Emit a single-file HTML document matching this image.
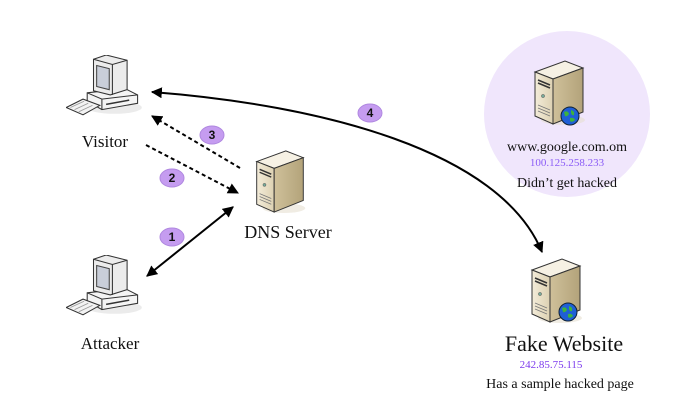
<!DOCTYPE html>
<html><head><meta charset="utf-8"><style>
html,body{margin:0;padding:0;background:#fff;width:677px;height:400px;overflow:hidden}
svg{display:block}
text{font-family:"Liberation Serif",serif;fill:#111}
</style></head><body>
<svg width="677" height="400" viewBox="0 0 677 400" xmlns="http://www.w3.org/2000/svg">
<defs>
<linearGradient id="front" x1="0" x2="1"><stop offset="0" stop-color="#f3ecd9"/><stop offset="1" stop-color="#ddd1b2"/></linearGradient>
<linearGradient id="side" x1="0" x2="1"><stop offset="0" stop-color="#cfc09a"/><stop offset="1" stop-color="#b3a37a"/></linearGradient>
<symbol id="server" viewBox="0 0 52 68">
<ellipse cx="30" cy="62" rx="22" ry="5" fill="#e6e0d0" opacity="0.6"/>
<path d="M2 14 L32 3 L50 10 L20 21 Z" fill="#f6f1e4" stroke="#333" stroke-width="1"/>
<path d="M2 14 L20 21 L20 66 L2 58 Z" fill="url(#front)" stroke="#333" stroke-width="1"/>
<path d="M20 21 L50 10 L50 54 L20 66 Z" fill="url(#side)" stroke="#333" stroke-width="1"/>
<path d="M5 22 L17 27 M5 25 L17 30" stroke="#333" stroke-width="1.5"/>
<circle cx="10" cy="38" r="1.6" fill="#7a9" stroke="#555" stroke-width="0.5"/>
<path d="M5 47 L17 52 M5 50 L17 55 M5 53 L17 58" stroke="#777" stroke-width="0.8"/>
</symbol>
<symbol id="globe" viewBox="0 0 20 20">
<circle cx="10" cy="10" r="9" fill="#1f5fd6" stroke="#123" stroke-width="1"/>
<path d="M4 6 Q8 4 9 8 Q7 11 5 10 Z M11 4 Q15 5 14 9 Q12 10 11 7 Z M10 12 Q14 11 15 14 Q12 17 10 15 Z" fill="#3db33d"/>
</symbol>
<symbol id="pc" viewBox="0 0 72 60">
<ellipse cx="46" cy="50" rx="26" ry="6" fill="#ddd" opacity="0.6"/>
<path d="M20 36 L56 32 L68 38 L68 46 L34 52 L20 44 Z" fill="#f4f4f4" stroke="#333" stroke-width="1"/>
<path d="M20 36 L34 42 L68 38 M34 42 L34 52" fill="none" stroke="#333" stroke-width="1"/>
<path d="M38 47 L60 43" stroke="#333" stroke-width="1.5"/>
<path d="M26 4 L38 0 L58 5 L58 33 L42 38 L26 34 Z" fill="#ececec" stroke="#333" stroke-width="1"/>
<path d="M26 4 L44 9 L58 5 M44 9 L44 38" fill="none" stroke="#333" stroke-width="1"/>
<path d="M29 10 L41 13 L41 33 L29 30 Z" fill="#c9ced9" stroke="#444" stroke-width="1"/>
<path d="M0 50 L16 42 L32 48 L16 57 Z" fill="#f2f2f2" stroke="#333" stroke-width="1"/>
<path d="M4 50 L17 44 M8 52 L21 46 M12 54 L25 48" stroke="#999" stroke-width="0.8"/>
</symbol>
<marker id="ah2" viewBox="0 0 10 10" refX="9" refY="5" markerWidth="11" markerHeight="11" orient="auto-start-reverse" markerUnits="userSpaceOnUse"><path d="M0 0 L10 5 L0 10 Z" fill="#000"/></marker>
</defs>

<circle cx="567" cy="114" r="83" fill="#f0e6fc"/>

<use href="#server" x="533" y="58" width="52" height="68"/>
<use href="#globe" x="560" y="106" width="20" height="20"/>
<use href="#server" x="530" y="256" width="52" height="68"/>
<use href="#globe" x="558" y="302" width="20" height="20"/>
<use href="#server" x="252" y="148" width="56" height="66"/>

<use href="#pc" x="66" y="55" width="76" height="63"/>
<use href="#pc" x="66" y="255" width="76" height="63"/>

<path d="M152 92 C 320 105 500 150 542 252" fill="none" stroke="#000" stroke-width="2" marker-start="url(#ah2)" marker-end="url(#ah2)"/>
<path d="M240 168 L152 116" fill="none" stroke="#000" stroke-width="2" stroke-dasharray="4,3" marker-end="url(#ah2)"/>
<path d="M146 145 L238 193" fill="none" stroke="#000" stroke-width="2" stroke-dasharray="4,3" marker-end="url(#ah2)"/>
<path d="M147 276 L233 207" fill="none" stroke="#000" stroke-width="2" marker-start="url(#ah2)" marker-end="url(#ah2)"/>

<g>
<ellipse cx="212" cy="135" rx="12" ry="9" fill="#c59cf0" stroke="#b088e0"/>
<text x="212" y="139" text-anchor="middle" style="font-family:'Liberation Sans',sans-serif;font-weight:bold;font-size:12px">3</text>
<ellipse cx="172" cy="178" rx="12" ry="9" fill="#c59cf0" stroke="#b088e0"/>
<text x="172" y="182" text-anchor="middle" style="font-family:'Liberation Sans',sans-serif;font-weight:bold;font-size:12px">2</text>
<ellipse cx="172" cy="237" rx="12" ry="9" fill="#c59cf0" stroke="#b088e0"/>
<text x="172" y="241" text-anchor="middle" style="font-family:'Liberation Sans',sans-serif;font-weight:bold;font-size:12px">1</text>
<ellipse cx="370" cy="113" rx="12" ry="9" fill="#c59cf0" stroke="#b088e0"/>
<text x="370" y="117" text-anchor="middle" style="font-family:'Liberation Sans',sans-serif;font-weight:bold;font-size:12px">4</text>
</g>

<text x="105" y="147" font-size="17" text-anchor="middle">Visitor</text>
<text x="110" y="349" font-size="17" text-anchor="middle">Attacker</text>
<text x="288" y="238" font-size="18" text-anchor="middle">DNS Server</text>
<text x="567" y="151" font-size="14" text-anchor="middle">www.google.com.om</text>
<text x="567" y="166" font-size="11" text-anchor="middle" style="fill:#8b5cf6">100.125.258.233</text>
<text x="567" y="187" font-size="14" text-anchor="middle">Didn’t get hacked</text>
<text x="564" y="351" font-size="22" text-anchor="middle">Fake Website</text>
<text x="551" y="368" font-size="11" text-anchor="middle" style="fill:#7c3aed">242.85.75.115</text>
<text x="560" y="388" font-size="14" text-anchor="middle">Has a sample hacked page</text>
</svg>
</body></html>
